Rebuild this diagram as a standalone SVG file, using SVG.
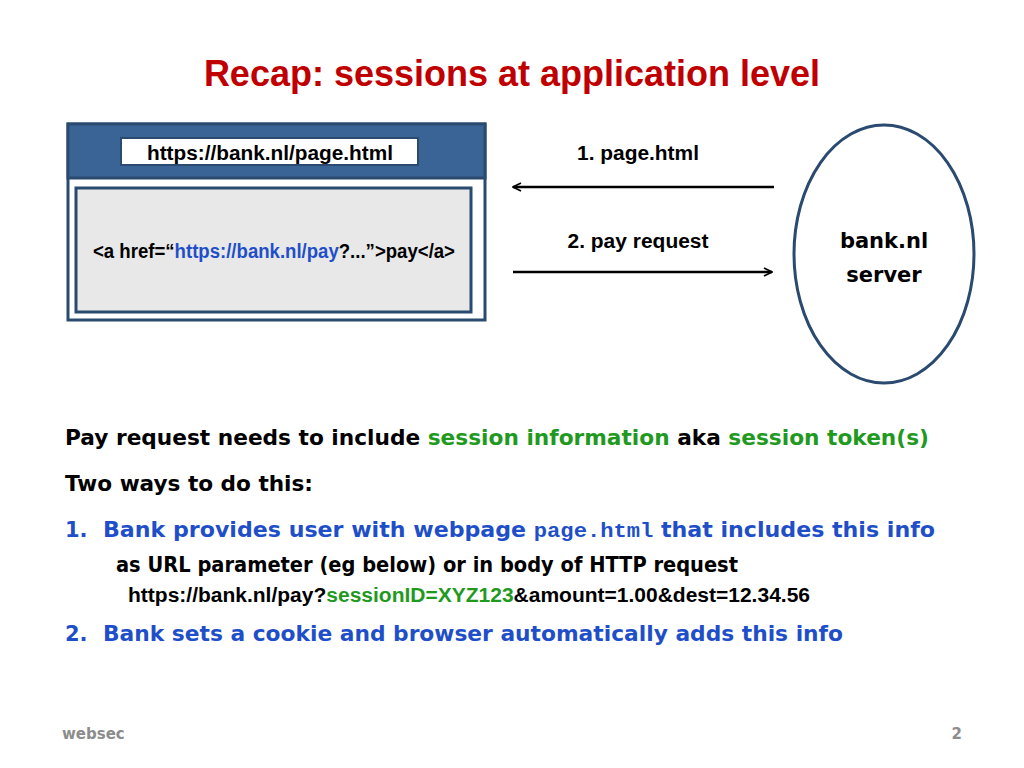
<svg xmlns="http://www.w3.org/2000/svg" width="1024" height="768" viewBox="0 0 1024 768">
<style>
.n{font-family:"Liberation Sans",Arial,sans-serif;font-weight:bold;font-size:20px;fill:#000}
.b{font-family:"DejaVu Sans","Open Sans",sans-serif;font-weight:bold;font-size:21px;fill:#000}
.blue{fill:#1f4fc8}.green{fill:#1f9a1f}
</style>
<defs><marker id="ah" markerWidth="10" markerHeight="10" refX="9" refY="5" orient="auto" markerUnits="userSpaceOnUse"><path d="M1,1 L9,5 L1,9" fill="none" stroke="#000" stroke-width="1.8"/></marker></defs>
<rect width="1024" height="768" fill="#fff"/>
<text x="512" y="86" text-anchor="middle" font-family="Liberation Sans,Arial,sans-serif" font-weight="bold" font-size="36" fill="#c00000">Recap: sessions at application level</text>
<g id="browser">
<rect x="68" y="124" width="417" height="196" fill="#fff" stroke="#2b4a70" stroke-width="3"/>
<rect x="68" y="124" width="417" height="54" fill="#3b6496" stroke="#2b4a70" stroke-width="3"/>
<rect x="121" y="138" width="297" height="27" fill="#fff" stroke="#2b4a70" stroke-width="2"/>
<text class="n" x="270" y="160" text-anchor="middle" textLength="246" lengthAdjust="spacingAndGlyphs">https://bank.nl/page.html</text>
<rect x="76" y="188" width="395" height="124" fill="#e8e8e8" stroke="#2b4a70" stroke-width="3"/>
<text class="n" x="93" y="258" font-size="18" textLength="362" lengthAdjust="spacingAndGlyphs">&lt;a href=“<tspan class="blue">https://bank.nl/pay</tspan>?...”&gt;pay&lt;/a&gt;</text>
</g>
<g id="server">
<ellipse cx="884" cy="254" rx="90" ry="129" fill="#fff" stroke="#2b4a70" stroke-width="3"/>
<text class="b" x="884" y="248" text-anchor="middle" font-size="22">bank.nl</text>
<text class="b" x="884" y="282" text-anchor="middle" font-size="22">server</text>
</g>
<g id="connectors" stroke="#000" stroke-width="2.5">
<line x1="774" y1="187" x2="513" y2="187" marker-end="url(#ah)"/>
<line x1="513" y1="272" x2="772" y2="272" marker-end="url(#ah)"/>
</g>
<text class="n" x="638" y="160" text-anchor="middle" textLength="122" lengthAdjust="spacingAndGlyphs">1. page.html</text>
<text class="n" x="638" y="248" text-anchor="middle" textLength="141" lengthAdjust="spacingAndGlyphs">2. pay request</text>
<text class="b" x="65" y="445" textLength="864" lengthAdjust="spacingAndGlyphs">Pay request needs to include <tspan class="green">session information</tspan> aka <tspan class="green">session token(s)</tspan></text>
<text class="b" x="65" y="491" textLength="248" lengthAdjust="spacingAndGlyphs">Two ways to do this:</text>
<text class="b blue" x="65" y="537">1.</text>
<text class="b blue" x="103" y="537" textLength="832" lengthAdjust="spacingAndGlyphs">Bank provides user with webpage <tspan font-family="Liberation Mono,Courier New,monospace">page.html</tspan> that includes this info</text>
<text class="b" x="116" y="572" font-size="18" textLength="622" lengthAdjust="spacingAndGlyphs">as URL parameter (eg below) or in body of HTTP request</text>
<text class="n" x="128" y="602" font-size="21" textLength="682" lengthAdjust="spacingAndGlyphs">https://bank.nl/pay?<tspan class="green">sessionID=XYZ123</tspan>&amp;amount=1.00&amp;dest=12.34.56</text>
<text class="b blue" x="65" y="641">2.</text>
<text class="b blue" x="103" y="641" textLength="740" lengthAdjust="spacingAndGlyphs">Bank sets a cookie and browser automatically adds this info</text>
<text x="62" y="739" font-family="DejaVu Sans,sans-serif" font-weight="bold" font-size="15" fill="#8c8c8c">websec</text>
<text x="962" y="739" text-anchor="end" font-family="DejaVu Sans,sans-serif" font-weight="bold" font-size="15" fill="#8c8c8c">2</text>
</svg>
